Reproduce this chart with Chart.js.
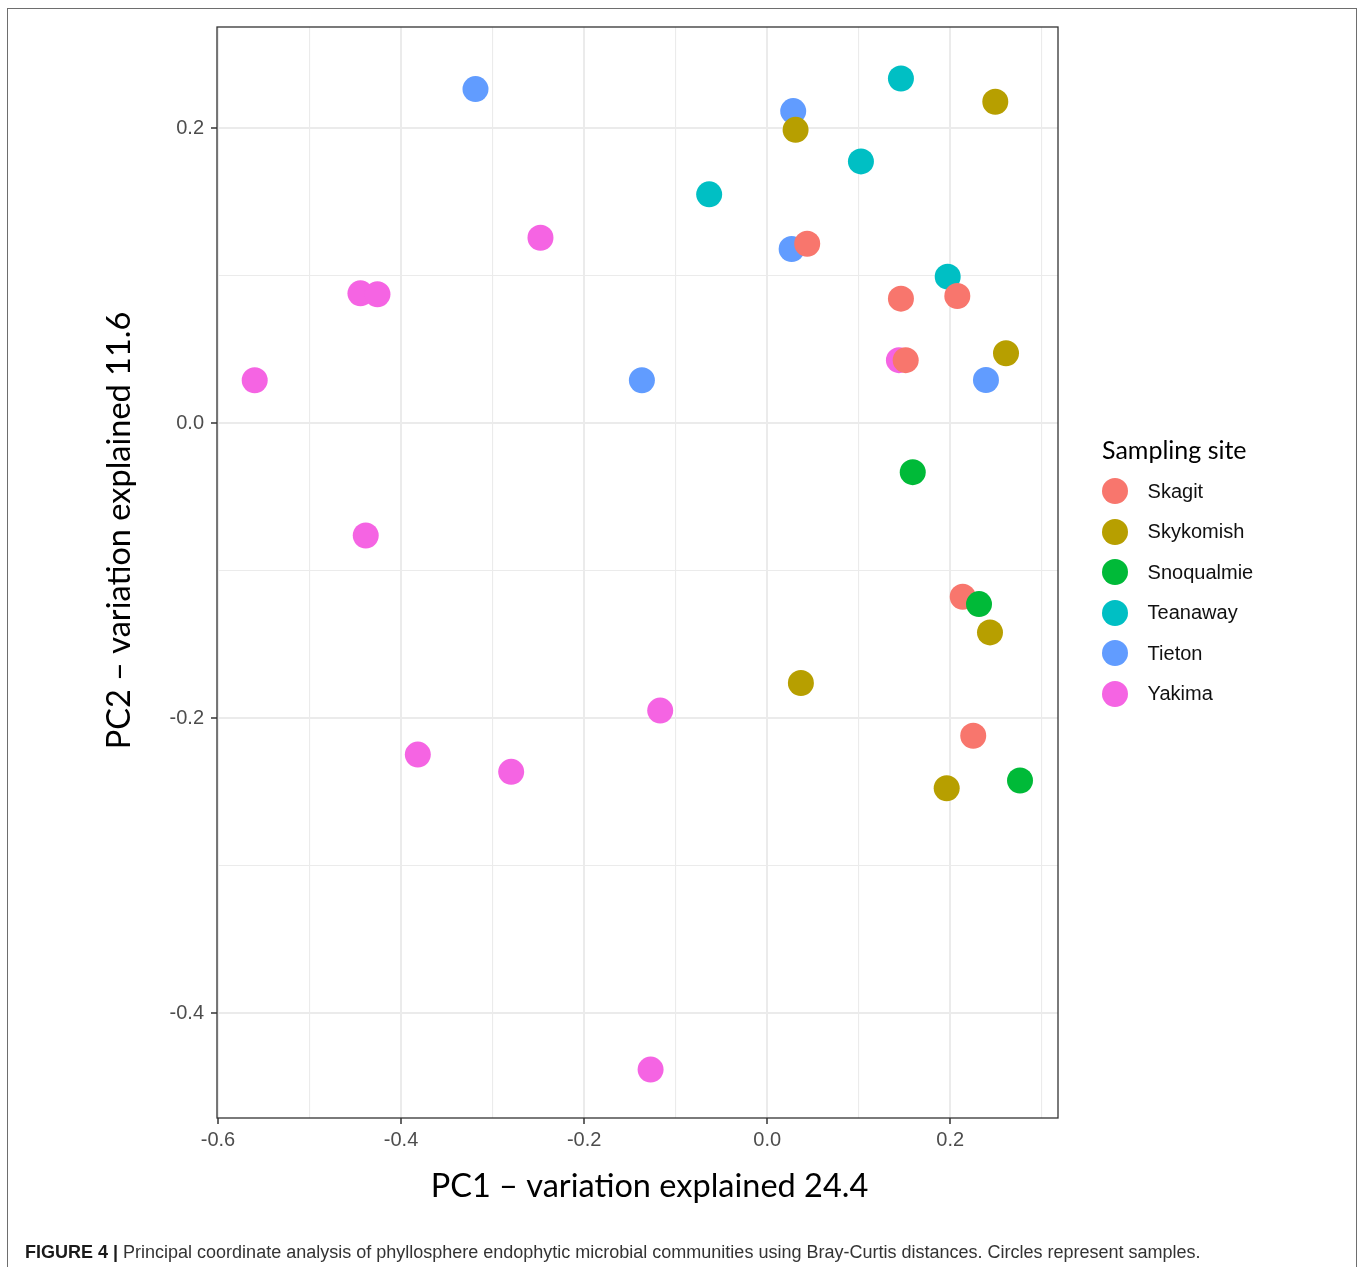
<!DOCTYPE html>
<html>
<head>
<meta charset="utf-8">
<script src="https://cdn.jsdelivr.net/npm/chart.js@4.4.1/dist/chart.umd.min.js"></script>
<style>
  html, body { margin: 0; padding: 0; background: #fff; width: 1358px; height: 1267px; overflow: hidden; }
  #frame { position: absolute; left: 7px; top: 8px; width: 1350px; height: 1320px; border: 1px solid #6e6e6e; box-sizing: border-box; }
  #chartCanvas { position: absolute; left: 0; top: 0; }
  #legend { position: absolute; left: 1102px; top: 434px; }
  #legendTitle { font-family: Lato, "Open Sans", sans-serif; font-size: 25px; line-height: 30px; color: #000; margin-bottom: 14px; white-space: nowrap; }
  .item { display: flex; align-items: center; height: 26px; margin-bottom: 14.5px; }
  .dot { width: 26px; height: 26px; border-radius: 50%; flex: none; }
  .lab { margin-left: 19.6px; font-family: "Liberation Sans", Arial, sans-serif; font-size: 20px; color: #111; white-space: nowrap; }
  #caption { position: absolute; left: 25px; top: 1242px; font-family: "Liberation Sans", Arial, sans-serif; font-size: 18px; line-height: 20px; color: #333; white-space: nowrap; }
  #caption b { color: #1a1a1a; }
</style>
</head>
<body>
<div id="frame"></div>
<canvas id="chartCanvas" width="1358" height="1267"></canvas>
<div id="legend"><div id="legendTitle">Sampling site</div></div>
<div id="caption"><b>FIGURE 4 |</b> Principal coordinate analysis of phyllosphere endophytic microbial communities using Bray-Curtis distances. Circles represent samples.</div>
<script>
// ---- data ----
const sites = ['Skagit', 'Skykomish', 'Snoqualmie', 'Teanaway', 'Tieton', 'Yakima'];
const siteColors = ['#F8766D', '#B79F00', '#00BA38', '#00BFC4', '#619CFF', '#F564E3'];

const skagitPC1 = [0.0437, 0.1461, 0.2077, 0.1513, 0.2136, 0.2251];
const skagitPC2 = [0.1216, 0.0844, 0.0862, 0.0427, -0.1176, -0.2118];

const skykomishPC1 = [0.2492, 0.0310, 0.2609, 0.2434, 0.0368, 0.1961];
const skykomishPC2 = [0.2178, 0.1988, 0.0474, -0.1418, -0.1761, -0.2474];

const snoqualmiePC1 = [0.1590, 0.2314, 0.2762];
const snoqualmiePC2 = [-0.0332, -0.1226, -0.2422];

const teanawayPC1 = [0.1461, 0.1024, -0.0634, 0.1972];
const teanawayPC2 = [0.2336, 0.1774, 0.1551, 0.0993];

const tietonPC1 = [-0.3187, 0.0284, 0.0267, -0.1369, 0.2390];
const tietonPC2 = [0.2264, 0.2115, 0.1180, 0.0291, 0.0293];

const yakimaPC1 = [-0.2477, -0.4444, -0.4258, -0.5599, 0.1439, -0.4386, -0.1169, -0.3817, -0.2797, -0.1274];
const yakimaPC2 = [0.1257, 0.0880, 0.0874, 0.0291, 0.0427, -0.0761, -0.1948, -0.2246, -0.2363, -0.4381];

const xTickValues = [-0.6, -0.5, -0.4, -0.3, -0.2, -0.1, 0.0, 0.1, 0.2, 0.3];
const xTickLabels = ['-0.6', '', '-0.4', '', '-0.2', '', '0.0', '', '0.2', ''];
const yTickValues = [-0.4, -0.3, -0.2, -0.1, 0.0, 0.1, 0.2];
const yTickLabels = ['-0.4', '', '-0.2', '', '0.0', '', '0.2'];

const xTitle = 'PC1 \u2013 variation explained 24.4';
const yTitle = 'PC2 \u2013 variation explained 11.6';
const legendTitle = 'Sampling site';

// ---- build datasets ----
const siteX = [skagitPC1, skykomishPC1, snoqualmiePC1, teanawayPC1, tietonPC1, yakimaPC1];
const siteY = [skagitPC2, skykomishPC2, snoqualmiePC2, teanawayPC2, tietonPC2, yakimaPC2];
const drawOrder = [1, 2, 0, 3, 4, 5]; // lower = drawn on top

const datasets = sites.map((s, i) => ({
  label: s,
  data: siteX[i].map((x, j) => ({ x: x, y: siteY[i][j] })),
  backgroundColor: siteColors[i],
  borderWidth: 0,
  pointRadius: 13,
  pointHoverRadius: 13,
  order: drawOrder[i]
}));

// ---- HTML legend from the same arrays ----
const legendEl = document.getElementById('legend');
document.getElementById('legendTitle').textContent = legendTitle;
sites.forEach((s, i) => {
  const row = document.createElement('div'); row.className = 'item';
  const dot = document.createElement('div'); dot.className = 'dot'; dot.style.background = siteColors[i];
  const lab = document.createElement('div'); lab.className = 'lab'; lab.textContent = s;
  row.appendChild(dot); row.appendChild(lab); legendEl.appendChild(row);
});

const panelBorder = {
  id: 'panelBorder',
  afterDraw(chart) {
    const { ctx, chartArea: a } = chart;
    ctx.save();
    ctx.strokeStyle = '#333333';
    ctx.lineWidth = 1.3;
    ctx.strokeRect(a.left, a.top, a.right - a.left, a.bottom - a.top);
    ctx.restore();
  }
};

// the reference's axis titles sit off the panel centre; nudge the library-drawn titles
const titleShift = { x: [12, 0], y: [0, -42] };
const titleNudge = {
  id: 'titleNudge',
  afterLayout(chart) {
    ['x', 'y'].forEach(id => {
      const s = chart.scales[id];
      if (!s || s._nudged) return;
      const orig = s.drawTitle.bind(s);
      s.drawTitle = function () {
        const ctx = this.ctx;
        ctx.save();
        ctx.translate(titleShift[id][0], titleShift[id][1]);
        orig();
        ctx.restore();
      };
      s._nudged = true;
    });
  }
};

const tickFont = { family: '"Liberation Sans", Arial, sans-serif', size: 20 };
const titleFont = { family: 'Lato, "Open Sans", sans-serif', size: 32.5 };

new Chart(document.getElementById('chartCanvas'), {
  type: 'scatter',
  data: { datasets: datasets },
  options: {
    responsive: false,
    animation: false,
    devicePixelRatio: 1,
    layout: { padding: { left: 0, top: 27, right: 300, bottom: 0 } },
    plugins: { legend: { display: false }, tooltip: { enabled: false } },
    scales: {
      x: {
        type: 'linear',
        min: -0.6011, max: 0.3177,
        afterBuildTicks: s => { s.ticks = xTickValues.map(v => ({ value: v })); },
        afterFit: s => { s.height = 149; },
        ticks: { callback: (v, i) => xTickLabels[i], font: tickFont, color: '#4d4d4d', padding: 4, maxRotation: 0, autoSkip: false },
        grid: {
          color: '#ebebeb',
          lineWidth: c => (xTickLabels[c.index] ? 2 : 1.1),
          tickColor: c => (xTickLabels[c.index] ? '#333333' : 'rgba(0,0,0,0)'),
          tickWidth: 1.5,
          tickLength: 6
        },
        border: { display: false },
        title: { display: true, text: xTitle, font: titleFont, color: '#000', padding: { top: 0, bottom: 61 } }
      },
      y: {
        type: 'linear',
        min: -0.4709, max: 0.2685,
        afterBuildTicks: s => { s.ticks = yTickValues.map(v => ({ value: v })); },
        afterFit: s => { s.width = 217; },
        ticks: { callback: (v, i) => yTickLabels[i], font: tickFont, color: '#4d4d4d', padding: 7, autoSkip: false },
        grid: {
          color: '#ebebeb',
          lineWidth: c => (yTickLabels[c.index] ? 2 : 1.1),
          tickColor: c => (yTickLabels[c.index] ? '#333333' : 'rgba(0,0,0,0)'),
          tickWidth: 1.5,
          tickLength: 6
        },
        border: { display: false },
        title: { display: true, text: yTitle, font: titleFont, color: '#000', padding: { top: 100, bottom: 0 } }
      }
    }
  },
  plugins: [panelBorder, titleNudge]
});
</script>
</body>
</html>
